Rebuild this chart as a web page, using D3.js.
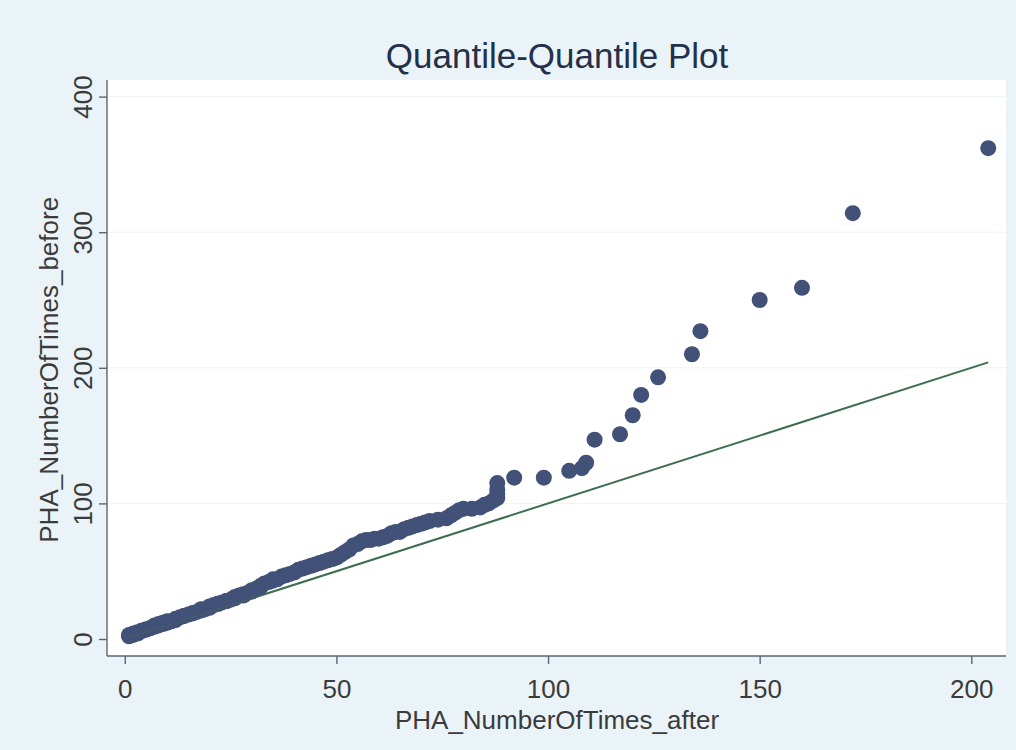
<!DOCTYPE html>
<html>
<head>
<meta charset="utf-8">
<script src="https://cdn.jsdelivr.net/npm/d3@7"></script>
<style>
  html, body { margin: 0; padding: 0; background: #eaf3f7; }
  svg { display: block; }
  text { font-family: "Liberation Sans", Arial, sans-serif; }
</style>
</head>
<body>
<svg id="chart" width="1016" height="750"></svg>
<script>
// ---- data (quantiles) ----
const titleText = "Quantile-Quantile Plot";
const xLabel = "PHA_NumberOfTimes_after";
const yLabel = "PHA_NumberOfTimes_before";
const xTicks = [0, 50, 100, 150, 200];
const yTicks = [0, 100, 200, 300, 400];

const afterQ = [1,1,2,2,3,3,4,4,5,5,6,6,7,7,8,8,9,9,10,10,
  11,12,12,13,14,14,15,16,16,17,18,18,19,20,20,21,22,22,23,24,
  24,25,26,26,27,28,28,29,30,30,31,32,32,33,34,35,35,36,37,38,
  39,40,41,42,43,44,45,46,47,48,49,50,51,52,53,54,55,56,57,58,
  59,60,61,62,63,64,65,66,67,68,69,70,71,72,74,76,77,78,79,80,
  82,84,85,86,87,88,88,88,88,92,99,105,108,109,111,117,120,122,126,134,
  136,150,160,172,204];
const beforeQ = [2,3,3,4,4,5,6,6,7,7,8,8,9,10,10,11,11,12,12,13,
  13,14,15,16,17,17,18,19,19,20,21,22,22,23,24,25,26,26,27,28,
  28,29,30,31,32,32,33,34,35,36,37,38,39,41,42,43,44,44,46,47,
  48,49,51,52,53,54,55,56,57,58,59,60,62,64,66,69,70,72,73,73,
  74,74,75,76,78,79,79,81,82,83,84,85,86,87,88,89,91,93,95,96,
  96,97,99,100,102,104,107,110,115,119,119,124,126,130,147,151,165,180,193,210,
  227,250,259,314,362];
const refLine = [[1, 1], [204, 204]];

// ---- layout ----
const svg = d3.select("#chart");
const W = 1016, H = 750;
const plot = { left: 107, right: 1006, top: 80, bottom: 656 };

const x = d3.scaleLinear().domain([0, 200]).range([124.8, 971.3]);
const y = d3.scaleLinear().domain([0, 400]).range([639, 96.6]);

svg.append("rect").attr("width", W).attr("height", H).attr("fill", "#eaf3f7");
svg.append("rect")
  .attr("x", plot.left).attr("y", plot.top)
  .attr("width", plot.right - plot.left).attr("height", plot.bottom - plot.top)
  .attr("fill", "#ffffff");

// gridlines
svg.append("g").selectAll("line").data(yTicks.slice(1)).join("line")
  .attr("x1", plot.left).attr("x2", plot.right)
  .attr("y1", d => y(d)).attr("y2", d => y(d))
  .attr("stroke", "#eef3f5").attr("stroke-width", 1);

const axisColor = "#5c6670";
const textColor = "#3b3b3b";

// x axis
const gx = svg.append("g").attr("transform", `translate(0,${plot.bottom})`)
  .call(d3.axisBottom(x).tickValues(xTicks).tickSize(8).tickPadding(10).tickFormat(d3.format("d")));
gx.select(".domain").attr("d", `M${plot.left},0H${plot.right}`);
gx.selectAll("path, line").attr("stroke", axisColor).attr("stroke-width", 1.4);
gx.selectAll("text").attr("font-size", 26).attr("fill", textColor)
  .attr("font-family", "Liberation Sans, Arial, sans-serif")
  .attr("dy", null).attr("y", 42);

// y axis
const gy = svg.append("g").attr("transform", `translate(${plot.left},0)`)
  .call(d3.axisLeft(y).tickValues(yTicks).tickSize(8).tickFormat(d3.format("d")));
gy.select(".domain").attr("d", `M0,${plot.top}V${plot.bottom}`);
gy.selectAll("path, line").attr("stroke", axisColor).attr("stroke-width", 1.4);
gy.selectAll(".tick text")
  .attr("font-size", 26).attr("fill", textColor)
  .attr("font-family", "Liberation Sans, Arial, sans-serif")
  .attr("x", null).attr("dy", null)
  .attr("text-anchor", "middle")
  .attr("transform", "translate(-15,0) rotate(-90)");

// reference line
svg.append("line")
  .attr("x1", x(refLine[0][0])).attr("y1", y(refLine[0][1]))
  .attr("x2", x(refLine[1][0])).attr("y2", y(refLine[1][1]))
  .attr("stroke", "#3e6e50").attr("stroke-width", 2);

// points
const pts = afterQ.map((a, i) => [a, beforeQ[i]]);
svg.append("g").selectAll("circle").data(pts).join("circle")
  .attr("cx", d => x(d[0])).attr("cy", d => y(d[1]))
  .attr("r", 8).attr("fill", "#415177");

// reference line faintly visible through the dense cluster
svg.append("line")
  .attr("x1", x(refLine[0][0])).attr("y1", y(refLine[0][1]))
  .attr("x2", x(40)).attr("y2", y(40))
  .attr("stroke", "#4b6e55").attr("stroke-width", 1).attr("opacity", 0.6);

// title
svg.append("text").attr("x", 557).attr("y", 68).attr("text-anchor", "middle")
  .attr("font-size", 35).attr("fill", "#243049").text(titleText);

// axis titles
svg.append("text").attr("x", 557).attr("y", 729).attr("text-anchor", "middle")
  .attr("font-size", 26).attr("fill", textColor).text(xLabel);
svg.append("text").attr("transform", `translate(58,${(y(0) + y(400)) / 2 + 2}) rotate(-90)`)
  .attr("text-anchor", "middle")
  .attr("font-size", 26).attr("fill", textColor).text(yLabel);
</script>
</body>
</html>
